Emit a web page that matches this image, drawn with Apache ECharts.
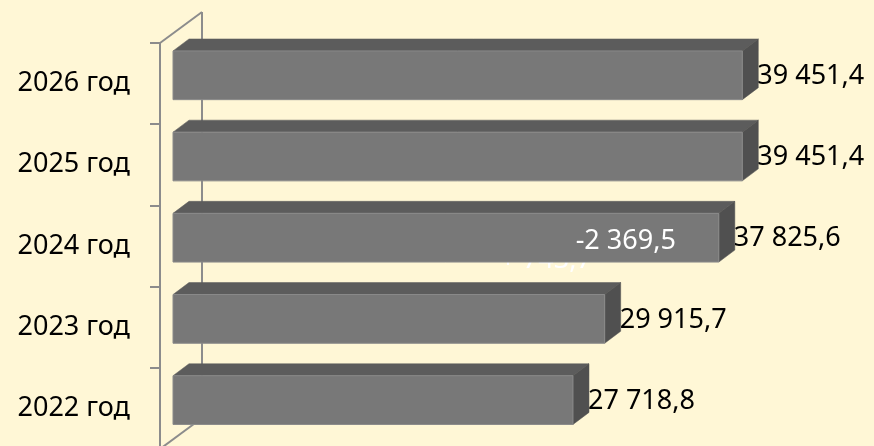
<!DOCTYPE html>
<html>
<head>
<meta charset="utf-8">
<script src="https://cdn.jsdelivr.net/npm/echarts@6/dist/echarts.min.js"></script>
<style>
  html, body { margin: 0; padding: 0; background: #fff7d6; }
  #chart { width: 874px; height: 446px; }
</style>
</head>
<body>
<div id="chart"></div>
<script>
// Budget totals by year
const categories = ['2022 год', '2023 год', '2024 год', '2025 год', '2026 год'];
const values = [27718.8, 29915.7, 37825.6, 39451.4, 39451.4];
// Change notes shown on the bars
const changeNotes = ['', '', '-2 369,5', '', ''];
const hiddenNotes = ['', '', '+ 743,7', '', ''];

const FONT = '"Noto Sans", "Open Sans", sans-serif';
const FRONT = { dx: 13, dy: -8.3 };   // bar front plane offset from wall front
const DEPTH = { dx: 16, dy: -12 };    // bar depth
const WALL = { dx: 42, dy: -31 };     // side wall depth
const WALL_COLOR = '#8c8c8c';

function fmt(v) {
  const parts = v.toFixed(1).split('.');
  const intPart = parts[0].replace(/\B(?=(\d{3})+(?!\d))/g, ' ');
  return intPart + ',' + parts[1];
}

function renderBar(params, api) {
  const v = api.value(0);
  const ci = api.value(1);
  const i = params.dataIndex;
  const p0 = api.coord([0, ci]);
  const p1 = api.coord([v, ci]);
  const band = api.size([0, 1])[1];
  const h = band * 0.6;
  const x0 = p0[0] + FRONT.dx;
  const x1 = p1[0] + FRONT.dx;
  const yc = p0[1] + FRONT.dy;
  const yt = yc - h / 2;
  const yb = yc + h / 2;
  const children = [];
  if (hiddenNotes[i]) {
    children.push({
      type: 'text', z2: 1,
      style: { text: hiddenNotes[i], x: x1 - 127, y: yc + 23, align: 'right', verticalAlign: 'middle',
        fill: '#ffffff', font: '27px ' + FONT }
    });
  }
  children.push(
    { type: 'polygon', z2: 10,
      shape: { points: [[x0, yt], [x1, yt], [x1 + DEPTH.dx, yt + DEPTH.dy], [x0 + DEPTH.dx, yt + DEPTH.dy]] },
      style: { fill: '#5c5c5c', stroke: '#5c5c5c', lineWidth: 0.5 } },
    { type: 'polygon', z2: 10,
      shape: { points: [[x1, yt], [x1 + DEPTH.dx, yt + DEPTH.dy], [x1 + DEPTH.dx, yb + DEPTH.dy], [x1, yb]] },
      style: { fill: '#505050', stroke: '#505050', lineWidth: 0.5 } },
    { type: 'rect', z2: 11,
      shape: { x: x0, y: yt, width: x1 - x0, height: h },
      style: { fill: '#787878', stroke: '#8a8a8a', lineWidth: 1 } },
    { type: 'text', z2: 12,
      style: { text: fmt(v), x: x1 + DEPTH.dx - 1, y: yc + 1, align: 'left', verticalAlign: 'middle',
        fill: '#000000', font: '27px ' + FONT } }
  );
  if (changeNotes[i]) {
    children.push({
      type: 'text', z2: 12,
      style: { text: changeNotes[i], x: x1 - 43, y: yc + 4, align: 'right', verticalAlign: 'middle',
        fill: '#ffffff', font: '27px ' + FONT }
    });
  }
  return { type: 'group', children: children };
}

// Back edge and diagonals of the side wall
function renderWall(params, api) {
  const cs = params.coordSys;
  const x = cs.x, y = cs.y, h = cs.height;
  const line = (a, b) => ({ type: 'line', z2: 0,
    shape: { x1: a[0], y1: a[1], x2: b[0], y2: b[1] },
    style: { stroke: WALL_COLOR, lineWidth: 2 } });
  return { type: 'group', children: [
    line([x, y], [x + WALL.dx, y + WALL.dy]),
    line([x + WALL.dx, y + WALL.dy], [x + WALL.dx, y + h + WALL.dy]),
    line([x, y + h], [x + WALL.dx, y + h + WALL.dy])
  ] };
}

const chart = echarts.init(document.getElementById('chart'), null, { renderer: 'canvas' });
chart.setOption({
  backgroundColor: '#fff7d6',
  animation: false,
  grid: { left: 160, top: 43, width: 577.2, height: 406, outerBoundsMode: 'none', containLabel: false },
  xAxis: { type: 'value', min: 0, max: 40000, show: false },
  yAxis: {
    type: 'category',
    data: categories,
    axisLine: { show: true, lineStyle: { color: WALL_COLOR, width: 2 } },
    axisTick: { show: true, length: 10, lineStyle: { color: WALL_COLOR, width: 2 } },
    axisLabel: { color: '#000000', fontSize: 27, fontFamily: FONT, margin: 30 },
    splitLine: { show: false }
  },
  series: [
    { type: 'custom', name: 'wall', renderItem: renderWall, data: [[0, 0]], z: 1, silent: true, clip: false },
    { type: 'custom', name: 'bars', renderItem: renderBar,
      data: values.map((v, i) => [v, i]), encode: { x: 0, y: 1 }, z: 2, clip: false }
  ]
});
</script>
</body>
</html>
